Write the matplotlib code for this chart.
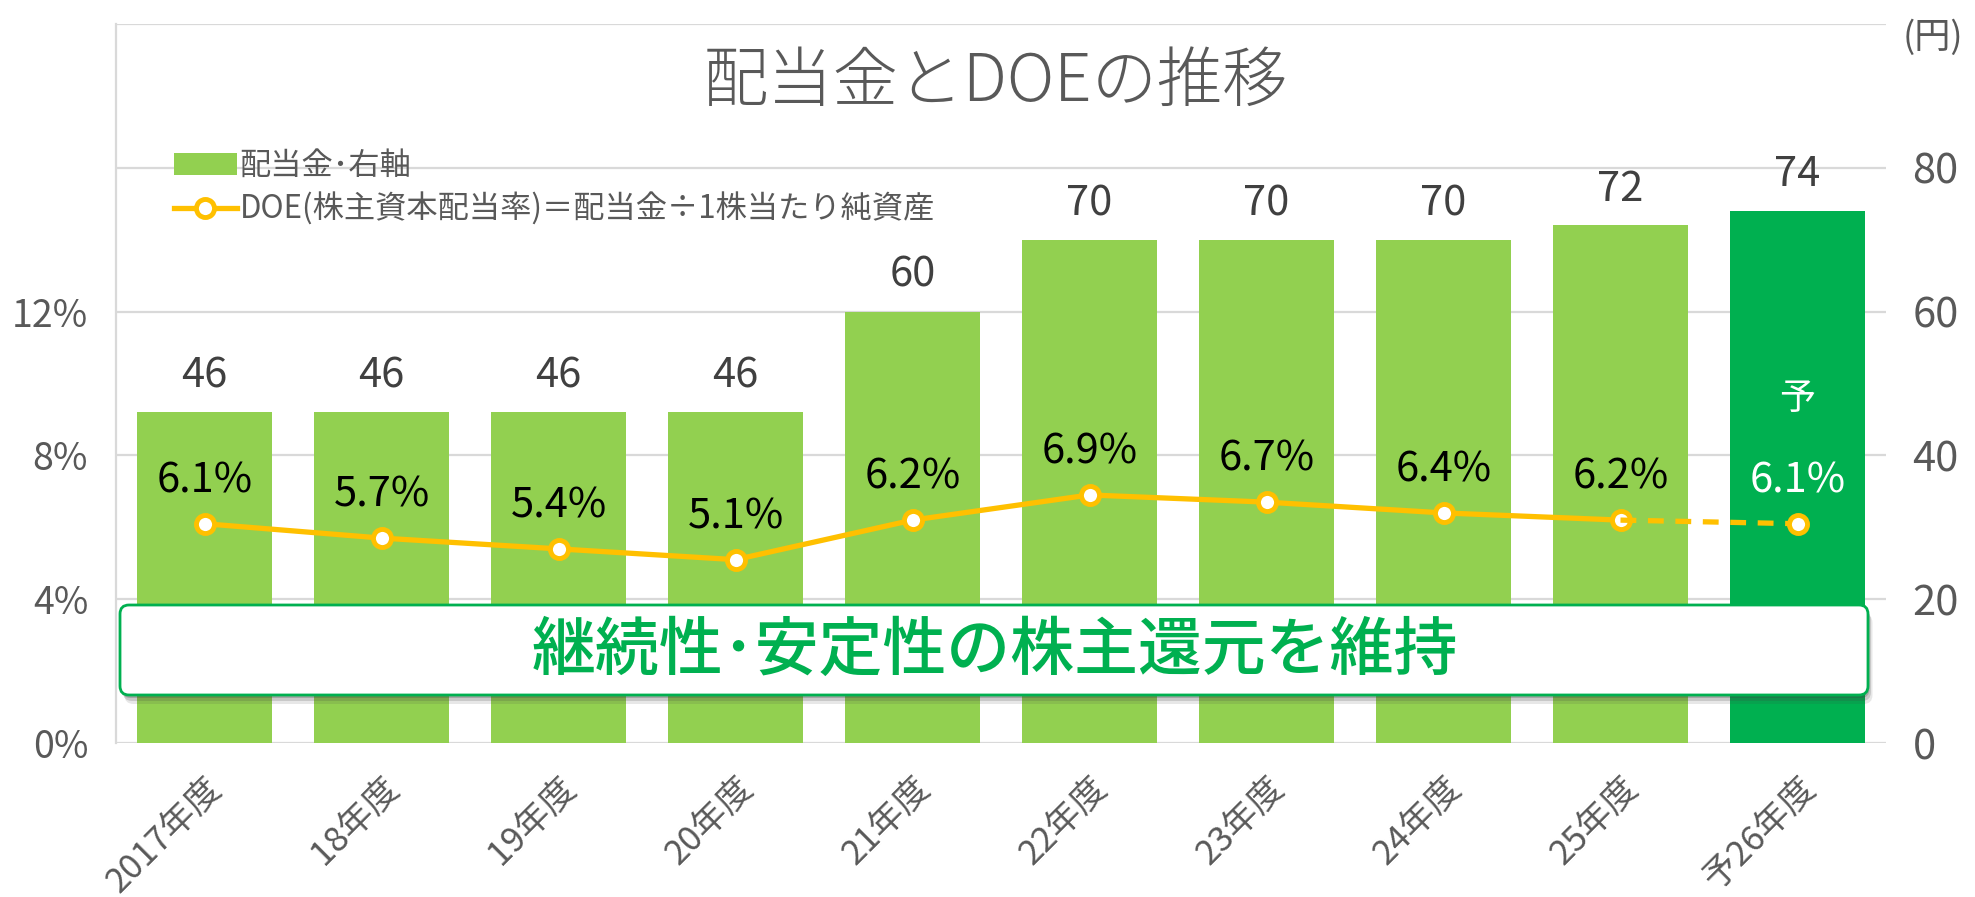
import matplotlib
matplotlib.use("Agg")
import matplotlib.pyplot as plt
from matplotlib.patches import FancyBboxPatch
from matplotlib.lines import Line2D
from matplotlib.transforms import IdentityTransform

plt.rcParams['font.family'] = ['Noto Sans CJK JP', 'DejaVu Sans']

# data
years = ['2017年度', '18年度', '19年度', '20年度', '21年度',
         '22年度', '23年度', '24年度', '25年度', '予26年度']
dividend = [46, 46, 46, 46, 60, 70, 70, 70, 72, 74]  # yen, right axis
doe = [6.1, 5.7, 5.4, 5.1, 6.2, 6.9, 6.7, 6.4, 6.2, 6.1]  # %, left axis
yen_ticks = [0, 20, 40, 60, 80]
pct_ticks = [0, 4, 8, 12]

LIGHT = '#92D050'
DARK = '#00B050'
GOLD = '#FFC000'
GRAY = '#595959'
GRID = '#D9D9D9'


def main():
    W, H = 1975, 897
    fig = plt.figure(figsize=(W / 100, H / 100), dpi=100)
    ax = fig.add_axes([116 / W, 1 - 743 / H, (1886 - 116) / W, (743 - 24) / H])
    ax2 = ax.twinx()
    x = list(range(len(years)))

    # dividend bars on the yen scale (right side)
    colors = [LIGHT] * (len(years) - 1) + [DARK]
    bars = ax.bar(x, dividend, width=0.76, color=colors, zorder=2)
    ax.set_ylim(0, 100)
    ax.set_xlim(-0.5, len(years) - 0.5)
    ax.set_yticks(yen_ticks + [100])
    ax.set_yticklabels([str(v) for v in yen_ticks] + [''])
    ax.yaxis.tick_right()
    ax.tick_params(axis='y', length=0, pad=19, labelsize=30, labelcolor=GRAY)
    ax.grid(axis='y', color=GRID, linewidth=1.6, zorder=0)
    ax.set_axisbelow(True)
    for s in ['top', 'right', 'bottom']:
        ax.spines[s].set_visible(False)
    ax.spines['left'].set_color(GRID)
    ax.spines['left'].set_linewidth(1.6)

    ax.set_xticks(x)
    ax.set_xticklabels(years, rotation=45, ha='right', va='top',
                       rotation_mode='anchor', fontsize=25, color=GRAY)
    ax.tick_params(axis='x', length=0, pad=20)

    for i, v in enumerate(dividend):
        ax.annotate(str(v), (i, v), xytext=(0, 26), textcoords='offset points',
                    ha='center', va='center', fontsize=30, color='#404040')

    # DOE line on the percent scale (left side)
    ax2.set_ylim(0, 20)
    ax2.yaxis.tick_left()
    ax2.set_yticks(pct_ticks)
    ax2.set_yticklabels([f'{v}%' for v in pct_ticks])
    ax2.tick_params(axis='y', length=0, pad=20, labelsize=27, labelcolor=GRAY)
    for s in ax2.spines.values():
        s.set_visible(False)

    mk = dict(marker='o', markersize=13, markerfacecolor='white',
              markeredgecolor=GOLD, markeredgewidth=3.5)
    ax2.plot(x[:-1], doe[:-1], color=GOLD, linewidth=3.8, zorder=3, **mk)
    ax2.plot(x[-2:], doe[-2:], color=GOLD, linewidth=3.8, linestyle=(0, (3, 2.2)),
             markevery=[1], zorder=3, **mk)

    for i, v in enumerate(doe):
        c = 'white' if i == len(doe) - 1 else 'black'
        ax2.annotate(f'{v}%', (i, v), xytext=(0, 31), textcoords='offset points',
                     ha='center', va='center', fontsize=30, color=c)
    ax2.annotate('予', (x[-1], doe[-1]), xytext=(0, 90), textcoords='offset points',
                 ha='center', va='center', fontsize=26, color='white')

    # legend
    bar_handle = bars.patches[0]
    line_handle = Line2D([], [], color=GOLD, linewidth=3.8, **mk)
    ax2.legend([bar_handle, line_handle],
               ['配当金･右軸', 'DOE(株主資本配当率)＝配当金÷1株当たり純資産'],
               loc='upper left', bbox_to_anchor=(174 / W, 1 - 150 / H),
               bbox_transform=fig.transFigure, frameon=False, fontsize=22.5,
               labelcolor=GRAY, handlelength=2.0, handletextpad=0.1,
               labelspacing=0.35, borderpad=0, borderaxespad=0)

    # title and unit
    fig.text(995 / W, 1 - 83 / H, '配当金とDOEの推移', ha='center', va='center',
             fontsize=47, color=GRAY, fontweight='light')
    fig.text(1933 / W, 1 - 38 / H, '(円)', ha='center', va='center',
             fontsize=26, color=GRAY)

    # message banner with a soft shadow
    bx, by, bw, bh = 120, H - 695, 1748, 90
    for off, a in [(9, 0.12), (6, 0.18), (3, 0.25)]:
        fig.patches.append(FancyBboxPatch(
            (bx + off * 0.5, by - off), bw, bh, boxstyle='round,pad=0,rounding_size=9',
            transform=IdentityTransform(), facecolor='#404040', edgecolor='none',
            alpha=a, zorder=5))
    fig.patches.append(FancyBboxPatch(
        (bx, by), bw, bh, boxstyle='round,pad=0,rounding_size=9',
        transform=IdentityTransform(), facecolor='white', edgecolor=DARK,
        linewidth=2, zorder=6))
    fig.text(995 / W, 1 - 651 / H, '継続性･安定性の株主還元を維持', ha='center',
             va='center', fontsize=46, color=DARK, fontweight='medium', zorder=7)

    fig.savefig('out.png', dpi=100)


if __name__ == "__main__":
    main()
